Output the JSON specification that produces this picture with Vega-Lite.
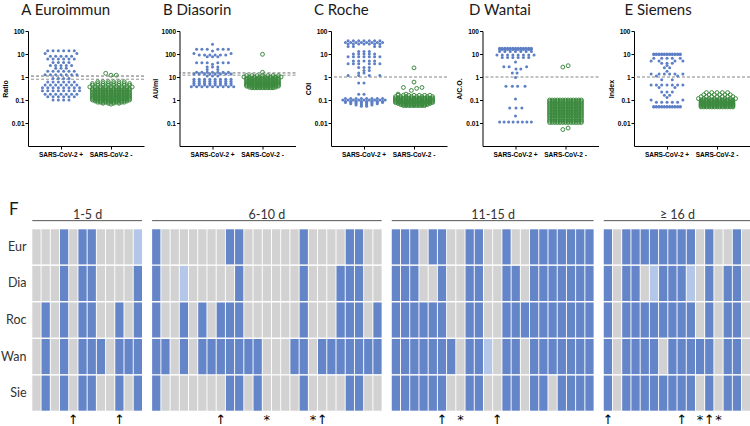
{
"$schema": "https://vega.github.io/schema/vega-lite/v6.json",
"padding": {"left": 0, "top": 3, "right": 0, "bottom": 0},
"background": "white",
"config": {"view": {"stroke": null}, "axis": {"grid": false}},
"datasets": {
"pts": [
{"p":"A","g":"+","v":14,"j":[-2.5,-1.5,-0.5,0.5,1.5,2.5]},
{"p":"A","g":"+","v":10.5,"j":[-3,3]},
{"p":"A","g":"+","v":8,"j":[-2,-1,0,1,2]},
{"p":"A","g":"+","v":6,"j":[-2.5,-1.5,-0.5,0.5,1.5,2.5]},
{"p":"A","g":"+","v":4.3,"j":[-1.5,-0.5,0.5,1.5]},
{"p":"A","g":"+","v":3.2,"j":[-2,-1,0,1,2]},
{"p":"A","g":"+","v":2.4,"j":[-1,0,1]},
{"p":"A","g":"+","v":1.8,"j":[-2.5,-1.5,-0.5,0.5,1.5,2.5]},
{"p":"A","g":"+","v":1.25,"j":[-3,-2,-1,0,1,2,3]},
{"p":"A","g":"+","v":0.85,"j":[-1.5,-0.5,0.5,1.5]},
{"p":"A","g":"+","v":0.6,"j":[-2.5,-1.5,-0.5,0.5,1.5,2.5]},
{"p":"A","g":"+","v":0.45,"j":[-3,-2,-1,0,1,2,3]},
{"p":"A","g":"+","v":0.34,"j":[-3.5,-2.5,-1.5,-0.5,0.5,1.5,2.5,3.5]},
{"p":"A","g":"+","v":0.25,"j":[-3.5,-2.5,-1.5,-0.5,0.5,1.5,2.5,3.5]},
{"p":"A","g":"+","v":0.18,"j":[-3,-2,-1,0,1,2,3]},
{"p":"A","g":"+","v":0.14,"j":[-2.5,-1.5,-0.5,0.5,1.5,2.5]},
{"p":"A","g":"+","v":0.1,"j":[-1.5,-0.5,0.5,1.5]},
{"p":"A","g":"-","v":1.45,"j":[-1]},
{"p":"A","g":"-","v":1.2,"j":[0,1]},
{"p":"A","g":"-","v":0.62,"j":[-2.5,-1.5,-0.5,0.5,1.5,2.5]},
{"p":"A","g":"-","v":0.52,"j":[-3.5,-2.5,-1.5,-0.5,0.5,1.5,2.5,3.5]},
{"p":"A","g":"-","v":0.44,"j":[-3.5,-2.5,-1.5,-0.5,0.5,1.5,2.5,3.5]},
{"p":"A","g":"-","v":0.37,"j":[-4,-3,-2,-1,0,1,2,3,4]},
{"p":"A","g":"-","v":0.31,"j":[-3.5,-3,-2.5,-2,-1.5,-1,-0.5,0,0.5,1,1.5,2,2.5,3,3.5]},
{"p":"A","g":"-","v":0.27,"j":[-3.5,-3,-2.5,-2,-1.5,-1,-0.5,0,0.5,1,1.5,2,2.5,3,3.5]},
{"p":"A","g":"-","v":0.23,"j":[-3.5,-3,-2.5,-2,-1.5,-1,-0.5,0,0.5,1,1.5,2,2.5,3,3.5]},
{"p":"A","g":"-","v":0.2,"j":[-3.5,-3,-2.5,-2,-1.5,-1,-0.5,0,0.5,1,1.5,2,2.5,3,3.5]},
{"p":"A","g":"-","v":0.17,"j":[-3.5,-3,-2.5,-2,-1.5,-1,-0.5,0,0.5,1,1.5,2,2.5,3,3.5]},
{"p":"A","g":"-","v":0.15,"j":[-3.5,-3,-2.5,-2,-1.5,-1,-0.5,0,0.5,1,1.5,2,2.5,3,3.5]},
{"p":"A","g":"-","v":0.13,"j":[-3.5,-3,-2.5,-2,-1.5,-1,-0.5,0,0.5,1,1.5,2,2.5,3,3.5]},
{"p":"A","g":"-","v":0.115,"j":[-3.5,-3,-2.5,-2,-1.5,-1,-0.5,0,0.5,1,1.5,2,2.5,3,3.5]},
{"p":"A","g":"-","v":0.1,"j":[-3.5,-3,-2.5,-2,-1.5,-1,-0.5,0,0.5,1,1.5,2,2.5,3,3.5]},
{"p":"A","g":"-","v":0.09,"j":[-3,-2.5,-2,-1.5,-1,-0.5,0,0.5,1,1.5,2,2.5,3]},
{"p":"A","g":"-","v":0.08,"j":[-2.5,-2,-1.5,-1,-0.5,0,0.5,1,1.5,2,2.5]},
{"p":"A","g":"-","v":0.072,"j":[-1.5,-0.5,0.5,1.5]},
{"p":"A","g":"-","v":0.066,"j":[0]},
{"p":"B","g":"+","v":266,"j":[0]},
{"p":"B","g":"+","v":160,"j":[-3,-2,-1,1,2,3]},
{"p":"B","g":"+","v":135,"j":[0]},
{"p":"B","g":"+","v":105,"j":[-3.5,3.5]},
{"p":"B","g":"+","v":90,"j":[-2.5,-1.5,-0.5,0.5,1.5,2.5]},
{"p":"B","g":"+","v":75,"j":[-1,0,1]},
{"p":"B","g":"+","v":42,"j":[-3,-2,-1,1,2,3]},
{"p":"B","g":"+","v":36,"j":[0]},
{"p":"B","g":"+","v":27,"j":[-1,0,1]},
{"p":"B","g":"+","v":21,"j":[-1,1]},
{"p":"B","g":"+","v":16,"j":[-3,-2,-1,0,1,2,3]},
{"p":"B","g":"+","v":13.5,"j":[-3.5,-2.5,-1.5,-0.5,0.5,1.5,2.5,3.5]},
{"p":"B","g":"+","v":11,"j":[-1,0,1]},
{"p":"B","g":"+","v":8,"j":[-3.5,-2.5,-1.5,-0.5,0.5,1.5,2.5,3.5]},
{"p":"B","g":"+","v":6.5,"j":[-3.5,-2.5,-1.5,-0.5,0.5,1.5,2.5,3.5]},
{"p":"B","g":"+","v":5.4,"j":[-3.5,-2.5,-1.5,-0.5,0.5,1.5,2.5,3.5]},
{"p":"B","g":"+","v":4.5,"j":[-3.5,-2.5,-1.5,-0.5,0.5,1.5,2.5,3.5]},
{"p":"B","g":"+","v":3.8,"j":[-4,-3,-2,-1,0,1,2,3,4]},
{"p":"B","g":"-","v":97,"j":[0]},
{"p":"B","g":"-","v":16,"j":[0]},
{"p":"B","g":"-","v":11.5,"j":[-3,-2,-1,0,1,2,3]},
{"p":"B","g":"-","v":10,"j":[-3.5,-2.5,-1.5,-0.5,0.5,1.5,2.5,3.5]},
{"p":"B","g":"-","v":9,"j":[-3,-2.5,-2,-1.5,-1,-0.5,0,0.5,1,1.5,2,2.5,3]},
{"p":"B","g":"-","v":8,"j":[-3,-2.5,-2,-1.5,-1,-0.5,0,0.5,1,1.5,2,2.5,3]},
{"p":"B","g":"-","v":7,"j":[-3,-2.5,-2,-1.5,-1,-0.5,0,0.5,1,1.5,2,2.5,3]},
{"p":"B","g":"-","v":6.2,"j":[-3,-2.5,-2,-1.5,-1,-0.5,0,0.5,1,1.5,2,2.5,3]},
{"p":"B","g":"-","v":5.5,"j":[-3,-2.5,-2,-1.5,-1,-0.5,0,0.5,1,1.5,2,2.5,3]},
{"p":"B","g":"-","v":4.9,"j":[-3,-2.5,-2,-1.5,-1,-0.5,0,0.5,1,1.5,2,2.5,3]},
{"p":"B","g":"-","v":4.4,"j":[-3,-2.5,-2,-1.5,-1,-0.5,0,0.5,1,1.5,2,2.5,3]},
{"p":"B","g":"-","v":4,"j":[-3,-2.5,-2,-1.5,-1,-0.5,0,0.5,1,1.5,2,2.5,3]},
{"p":"B","g":"-","v":3.6,"j":[-2.5,-2,-1.5,-1,-0.5,0,0.5,1,1.5,2,2.5]},
{"p":"B","g":"-","v":3.4,"j":[-2,-1.5,-1,-0.5,0,0.5,1,1.5,2]},
{"p":"C","g":"+","v":38,"j":[-3,-2,-1,0,1,2,3]},
{"p":"C","g":"+","v":32,"j":[-3.5,-2.5,-1.5,-0.5,0.5,1.5,2.5,3.5]},
{"p":"C","g":"+","v":27,"j":[-3,-2,-1,0,1,2,3]},
{"p":"C","g":"+","v":21,"j":[-3,-2,2,3]},
{"p":"C","g":"+","v":13,"j":[-1,0,1]},
{"p":"C","g":"+","v":10,"j":[-2,-1,0,1,2]},
{"p":"C","g":"+","v":7.5,"j":[-3,-2,-1,0,1,2,3]},
{"p":"C","g":"+","v":5,"j":[-2,-1,0,1,2]},
{"p":"C","g":"+","v":3.8,"j":[-3,-2,-1,1,2,3]},
{"p":"C","g":"+","v":2.6,"j":[-1,0,1]},
{"p":"C","g":"+","v":1.9,"j":[0,1]},
{"p":"C","g":"+","v":1.5,"j":[-1,0]},
{"p":"C","g":"+","v":1.15,"j":[-3,-1,1,3]},
{"p":"C","g":"+","v":0.55,"j":[-1,0]},
{"p":"C","g":"+","v":0.18,"j":[-1,0]},
{"p":"C","g":"+","v":0.115,"j":[-3.5,-2.5,-1.5,-0.5,0.5,1.5,2.5,3.5]},
{"p":"C","g":"+","v":0.1,"j":[-4,-3,-2,-1,0,1,2,3,4]},
{"p":"C","g":"+","v":0.088,"j":[-3.5,-2.5,-1.5,-0.5,0.5,1.5,2.5,3.5]},
{"p":"C","g":"+","v":0.077,"j":[-3.5,-2.5,-1.5,-0.5,0.5,1.5,2.5,3.5]},
{"p":"C","g":"+","v":0.068,"j":[-2.5,-1.5,-0.5,0.5,1.5,2.5]},
{"p":"C","g":"+","v":0.06,"j":[-1.5,-0.5,0.5,1.5]},
{"p":"C","g":"+","v":0.053,"j":[-0.5,0.5]},
{"p":"C","g":"-","v":2.5,"j":[0]},
{"p":"C","g":"-","v":0.6,"j":[0]},
{"p":"C","g":"-","v":0.35,"j":[-2,1.5]},
{"p":"C","g":"-","v":0.32,"j":[0.5]},
{"p":"C","g":"-","v":0.26,"j":[-0.5]},
{"p":"C","g":"-","v":0.18,"j":[-3,-1.5]},
{"p":"C","g":"-","v":0.16,"j":[-3,-2,-1,0,1,2,3]},
{"p":"C","g":"-","v":0.14,"j":[-3.5,-2.5,-1.5,-0.5,0.5,1.5,2.5,3.5]},
{"p":"C","g":"-","v":0.12,"j":[-3.5,-3,-2.5,-2,-1.5,-1,-0.5,0,0.5,1,1.5,2,2.5,3,3.5]},
{"p":"C","g":"-","v":0.105,"j":[-3.5,-3,-2.5,-2,-1.5,-1,-0.5,0,0.5,1,1.5,2,2.5,3,3.5]},
{"p":"C","g":"-","v":0.095,"j":[-3.5,-3,-2.5,-2,-1.5,-1,-0.5,0,0.5,1,1.5,2,2.5,3,3.5]},
{"p":"C","g":"-","v":0.085,"j":[-3.5,-3,-2.5,-2,-1.5,-1,-0.5,0,0.5,1,1.5,2,2.5,3,3.5]},
{"p":"C","g":"-","v":0.078,"j":[-3.5,-3,-2.5,-2,-1.5,-1,-0.5,0,0.5,1,1.5,2,2.5,3,3.5]},
{"p":"C","g":"-","v":0.07,"j":[-3,-2.5,-2,-1.5,-1,-0.5,0,0.5,1,1.5,2,2.5,3]},
{"p":"C","g":"-","v":0.063,"j":[-2.5,-2,-1.5,-1,-0.5,0,0.5,1,1.5,2,2.5]},
{"p":"C","g":"-","v":0.057,"j":[-2,-1.5,-1,-0.5,0,0.5,1,1.5,2]},
{"p":"D","g":"+","v":18,"j":[-3,-2.5,-2,-1.5,-1,-0.5,0,0.5,1,1.5,2,2.5,3]},
{"p":"D","g":"+","v":15.5,"j":[-3,-2.5,-2,-1.5,-1,-0.5,0,0.5,1,1.5,2,2.5,3]},
{"p":"D","g":"+","v":13,"j":[-3,-2,-1,0,1,2,3]},
{"p":"D","g":"+","v":9,"j":[-3.5,-2.5,-1.5,-0.5,0.5,1.5,2.5,3.5]},
{"p":"D","g":"+","v":7,"j":[-2.5,-1.5,-0.5,0.5,1.5,2.5]},
{"p":"D","g":"+","v":4.5,"j":[0]},
{"p":"D","g":"+","v":2.8,"j":[-2.2,-1.2,2.1]},
{"p":"D","g":"+","v":2.2,"j":[0.1,1]},
{"p":"D","g":"+","v":1.5,"j":[-0.6,0.3]},
{"p":"D","g":"+","v":0.95,"j":[0]},
{"p":"D","g":"+","v":0.4,"j":[-1.8,-0.6,0.4,1.8]},
{"p":"D","g":"+","v":0.11,"j":[0]},
{"p":"D","g":"+","v":0.045,"j":[-1.1,0.1,1.2]},
{"p":"D","g":"+","v":0.02,"j":[0]},
{"p":"D","g":"+","v":0.011,"j":[-3,-2.15,-1.3,-0.45,0.45,1.3,2.15,3]},
{"p":"D","g":"-","v":3.1,"j":[0.5]},
{"p":"D","g":"-","v":2.7,"j":[-0.5]},
{"p":"D","g":"-","v":0.1,"j":[-3,-2.5,-2,-1.5,-1,-0.5,0,0.5,1,1.5,2,2.5,3]},
{"p":"D","g":"-","v":0.088,"j":[-3,-2.5,-2,-1.5,-1,-0.5,0,0.5,1,1.5,2,2.5,3]},
{"p":"D","g":"-","v":0.076,"j":[-3,-2.5,-2,-1.5,-1,-0.5,0,0.5,1,1.5,2,2.5,3]},
{"p":"D","g":"-","v":0.066,"j":[-3,-2.5,-2,-1.5,-1,-0.5,0,0.5,1,1.5,2,2.5,3]},
{"p":"D","g":"-","v":0.057,"j":[-3,-2.5,-2,-1.5,-1,-0.5,0,0.5,1,1.5,2,2.5,3]},
{"p":"D","g":"-","v":0.049,"j":[-3,-2.5,-2,-1.5,-1,-0.5,0,0.5,1,1.5,2,2.5,3]},
{"p":"D","g":"-","v":0.042,"j":[-3,-2.5,-2,-1.5,-1,-0.5,0,0.5,1,1.5,2,2.5,3]},
{"p":"D","g":"-","v":0.036,"j":[-3,-2.5,-2,-1.5,-1,-0.5,0,0.5,1,1.5,2,2.5,3]},
{"p":"D","g":"-","v":0.031,"j":[-3,-2.5,-2,-1.5,-1,-0.5,0,0.5,1,1.5,2,2.5,3]},
{"p":"D","g":"-","v":0.027,"j":[-3,-2.5,-2,-1.5,-1,-0.5,0,0.5,1,1.5,2,2.5,3]},
{"p":"D","g":"-","v":0.023,"j":[-3,-2.5,-2,-1.5,-1,-0.5,0,0.5,1,1.5,2,2.5,3]},
{"p":"D","g":"-","v":0.02,"j":[-3,-2.5,-2,-1.5,-1,-0.5,0,0.5,1,1.5,2,2.5,3]},
{"p":"D","g":"-","v":0.017,"j":[-3,-2.5,-2,-1.5,-1,-0.5,0,0.5,1,1.5,2,2.5,3]},
{"p":"D","g":"-","v":0.014,"j":[-3,-2.5,-2,-1.5,-1,-0.5,0,0.5,1,1.5,2,2.5,3]},
{"p":"D","g":"-","v":0.012,"j":[-3,-2.5,-2,-1.5,-1,-0.5,0,0.5,1,1.5,2,2.5,3]},
{"p":"D","g":"-","v":0.0105,"j":[-3,-2.5,-2,-1.5,-1,-0.5,0,0.5,1,1.5,2,2.5,3]},
{"p":"D","g":"-","v":0.006,"j":[0.5]},
{"p":"D","g":"-","v":0.0052,"j":[-0.5]},
{"p":"E","g":"+","v":10,"j":[-2.5,-2,-1.5,-1,-0.5,0,0.5,1,1.5,2,2.5]},
{"p":"E","g":"+","v":9.6,"j":[-2.5,-2,-1.5,-1,-0.5,0,0.5,1,1.5,2,2.5]},
{"p":"E","g":"+","v":6.5,"j":[-2.5,-1,0,1,2.5]},
{"p":"E","g":"+","v":5,"j":[-3,-1.5,1.5,3]},
{"p":"E","g":"+","v":4,"j":[-1,0,1]},
{"p":"E","g":"+","v":3.2,"j":[0]},
{"p":"E","g":"+","v":2.5,"j":[-0.5,0.5]},
{"p":"E","g":"+","v":1.8,"j":[0]},
{"p":"E","g":"+","v":1.35,"j":[-3,-1.5,-0.5,0.5,1.5,3]},
{"p":"E","g":"+","v":1.1,"j":[-2,2]},
{"p":"E","g":"+","v":0.75,"j":[-1,1]},
{"p":"E","g":"+","v":0.45,"j":[-3,-2,-1,0,1,2,3]},
{"p":"E","g":"+","v":0.35,"j":[-1.5,1.5]},
{"p":"E","g":"+","v":0.22,"j":[-1,0,1]},
{"p":"E","g":"+","v":0.16,"j":[-0.5,0.5]},
{"p":"E","g":"+","v":0.13,"j":[0]},
{"p":"E","g":"+","v":0.1,"j":[-3,3]},
{"p":"E","g":"+","v":0.08,"j":[-2,-1,0,1,2]},
{"p":"E","g":"+","v":0.052,"j":[-2.5,-2,-1.5,-1,-0.5,0,0.5,1,1.5,2,2.5]},
{"p":"E","g":"+","v":0.05,"j":[-2.5,-2,-1.5,-1,-0.5,0,0.5,1,1.5,2,2.5]},
{"p":"E","g":"-","v":0.21,"j":[-2,-1,0,1,2]},
{"p":"E","g":"-","v":0.17,"j":[-2.5,-1.5,-0.5,0.5,1.5,2.5]},
{"p":"E","g":"-","v":0.14,"j":[-3,-2,-1,0,1,2,3]},
{"p":"E","g":"-","v":0.115,"j":[-3.5,-2.5,-1.5,-0.5,0.5,1.5,2.5,3.5]},
{"p":"E","g":"-","v":0.1,"j":[-3,-2.5,-2,-1.5,-1,-0.5,0,0.5,1,1.5,2,2.5,3]},
{"p":"E","g":"-","v":0.09,"j":[-3,-2.5,-2,-1.5,-1,-0.5,0,0.5,1,1.5,2,2.5,3]},
{"p":"E","g":"-","v":0.08,"j":[-3,-2.5,-2,-1.5,-1,-0.5,0,0.5,1,1.5,2,2.5,3]},
{"p":"E","g":"-","v":0.072,"j":[-3,-2.5,-2,-1.5,-1,-0.5,0,0.5,1,1.5,2,2.5,3]},
{"p":"E","g":"-","v":0.065,"j":[-3,-2.5,-2,-1.5,-1,-0.5,0,0.5,1,1.5,2,2.5,3]},
{"p":"E","g":"-","v":0.06,"j":[-3,-2.5,-2,-1.5,-1,-0.5,0,0.5,1,1.5,2,2.5,3]},
{"p":"E","g":"-","v":0.055,"j":[-3,-2.5,-2,-1.5,-1,-0.5,0,0.5,1,1.5,2,2.5,3]},
{"p":"E","g":"-","v":0.05,"j":[-3,-2.5,-2,-1.5,-1,-0.5,0,0.5,1,1.5,2,2.5,3]}
],
"cells": [
{"c":1,"Eur":"n","Dia":"n","Roc":"n","Wan":"n","Sie":"n"},
{"c":2,"Eur":"n","Dia":"n","Roc":"p","Wan":"p","Sie":"p"},
{"c":3,"Eur":"n","Dia":"n","Roc":"n","Wan":"n","Sie":"n"},
{"c":4,"Eur":"p","Dia":"p","Roc":"p","Wan":"p","Sie":"p"},
{"c":5,"Eur":"n","Dia":"n","Roc":"n","Wan":"n","Sie":"n"},
{"c":6,"Eur":"p","Dia":"p","Roc":"p","Wan":"p","Sie":"p"},
{"c":7,"Eur":"p","Dia":"p","Roc":"p","Wan":"p","Sie":"p"},
{"c":8,"Eur":"n","Dia":"n","Roc":"n","Wan":"p","Sie":"n"},
{"c":9,"Eur":"n","Dia":"n","Roc":"n","Wan":"n","Sie":"n"},
{"c":10,"Eur":"n","Dia":"n","Roc":"p","Wan":"p","Sie":"p"},
{"c":11,"Eur":"n","Dia":"n","Roc":"n","Wan":"p","Sie":"n"},
{"c":12,"Eur":"b","Dia":"p","Roc":"p","Wan":"p","Sie":"p"},
{"c":14,"Eur":"p","Dia":"p","Roc":"p","Wan":"p","Sie":"p"},
{"c":15,"Eur":"n","Dia":"n","Roc":"n","Wan":"p","Sie":"n"},
{"c":16,"Eur":"n","Dia":"n","Roc":"n","Wan":"n","Sie":"n"},
{"c":17,"Eur":"n","Dia":"b","Roc":"p","Wan":"p","Sie":"n"},
{"c":18,"Eur":"n","Dia":"n","Roc":"n","Wan":"n","Sie":"n"},
{"c":19,"Eur":"n","Dia":"n","Roc":"p","Wan":"p","Sie":"n"},
{"c":20,"Eur":"n","Dia":"n","Roc":"n","Wan":"p","Sie":"n"},
{"c":21,"Eur":"n","Dia":"n","Roc":"p","Wan":"p","Sie":"n"},
{"c":22,"Eur":"p","Dia":"n","Roc":"p","Wan":"p","Sie":"p"},
{"c":23,"Eur":"p","Dia":"p","Roc":"p","Wan":"p","Sie":"p"},
{"c":24,"Eur":"n","Dia":"n","Roc":"n","Wan":"p","Sie":"n"},
{"c":25,"Eur":"n","Dia":"n","Roc":"n","Wan":"p","Sie":"p"},
{"c":26,"Eur":"n","Dia":"n","Roc":"n","Wan":"n","Sie":"n"},
{"c":27,"Eur":"n","Dia":"n","Roc":"n","Wan":"n","Sie":"n"},
{"c":28,"Eur":"n","Dia":"n","Roc":"n","Wan":"n","Sie":"n"},
{"c":29,"Eur":"n","Dia":"n","Roc":"n","Wan":"p","Sie":"n"},
{"c":30,"Eur":"p","Dia":"p","Roc":"p","Wan":"p","Sie":"p"},
{"c":31,"Eur":"n","Dia":"n","Roc":"n","Wan":"n","Sie":"n"},
{"c":32,"Eur":"n","Dia":"n","Roc":"n","Wan":"p","Sie":"n"},
{"c":33,"Eur":"n","Dia":"n","Roc":"n","Wan":"p","Sie":"n"},
{"c":34,"Eur":"n","Dia":"p","Roc":"p","Wan":"p","Sie":"n"},
{"c":35,"Eur":"p","Dia":"p","Roc":"p","Wan":"p","Sie":"p"},
{"c":36,"Eur":"p","Dia":"p","Roc":"p","Wan":"p","Sie":"p"},
{"c":37,"Eur":"n","Dia":"n","Roc":"n","Wan":"p","Sie":"n"},
{"c":38,"Eur":"n","Dia":"n","Roc":"p","Wan":"p","Sie":"n"},
{"c":40,"Eur":"p","Dia":"p","Roc":"p","Wan":"p","Sie":"p"},
{"c":41,"Eur":"p","Dia":"p","Roc":"p","Wan":"p","Sie":"p"},
{"c":42,"Eur":"p","Dia":"p","Roc":"p","Wan":"p","Sie":"p"},
{"c":43,"Eur":"n","Dia":"n","Roc":"p","Wan":"p","Sie":"p"},
{"c":44,"Eur":"p","Dia":"n","Roc":"p","Wan":"p","Sie":"p"},
{"c":45,"Eur":"p","Dia":"p","Roc":"p","Wan":"p","Sie":"p"},
{"c":46,"Eur":"n","Dia":"n","Roc":"n","Wan":"p","Sie":"n"},
{"c":47,"Eur":"n","Dia":"n","Roc":"n","Wan":"n","Sie":"n"},
{"c":48,"Eur":"p","Dia":"p","Roc":"p","Wan":"p","Sie":"p"},
{"c":49,"Eur":"p","Dia":"p","Roc":"p","Wan":"p","Sie":"p"},
{"c":50,"Eur":"n","Dia":"n","Roc":"n","Wan":"b","Sie":"n"},
{"c":51,"Eur":"n","Dia":"n","Roc":"n","Wan":"n","Sie":"n"},
{"c":52,"Eur":"p","Dia":"p","Roc":"p","Wan":"p","Sie":"p"},
{"c":53,"Eur":"n","Dia":"p","Roc":"p","Wan":"p","Sie":"p"},
{"c":54,"Eur":"n","Dia":"n","Roc":"p","Wan":"n","Sie":"n"},
{"c":55,"Eur":"p","Dia":"p","Roc":"p","Wan":"p","Sie":"p"},
{"c":56,"Eur":"p","Dia":"p","Roc":"p","Wan":"p","Sie":"p"},
{"c":57,"Eur":"p","Dia":"p","Roc":"p","Wan":"p","Sie":"n"},
{"c":58,"Eur":"p","Dia":"p","Roc":"p","Wan":"p","Sie":"p"},
{"c":59,"Eur":"p","Dia":"p","Roc":"p","Wan":"p","Sie":"p"},
{"c":60,"Eur":"p","Dia":"p","Roc":"p","Wan":"p","Sie":"p"},
{"c":61,"Eur":"p","Dia":"p","Roc":"p","Wan":"p","Sie":"p"},
{"c":63,"Eur":"p","Dia":"p","Roc":"p","Wan":"p","Sie":"p"},
{"c":64,"Eur":"n","Dia":"n","Roc":"n","Wan":"n","Sie":"n"},
{"c":65,"Eur":"p","Dia":"p","Roc":"p","Wan":"p","Sie":"p"},
{"c":66,"Eur":"p","Dia":"p","Roc":"p","Wan":"p","Sie":"p"},
{"c":67,"Eur":"p","Dia":"n","Roc":"p","Wan":"p","Sie":"p"},
{"c":68,"Eur":"p","Dia":"b","Roc":"p","Wan":"p","Sie":"p"},
{"c":69,"Eur":"p","Dia":"p","Roc":"p","Wan":"n","Sie":"p"},
{"c":70,"Eur":"p","Dia":"p","Roc":"p","Wan":"p","Sie":"p"},
{"c":71,"Eur":"p","Dia":"p","Roc":"p","Wan":"p","Sie":"p"},
{"c":72,"Eur":"p","Dia":"b","Roc":"p","Wan":"p","Sie":"p"},
{"c":73,"Eur":"n","Dia":"n","Roc":"n","Wan":"p","Sie":"n"},
{"c":74,"Eur":"p","Dia":"p","Roc":"p","Wan":"p","Sie":"p"},
{"c":75,"Eur":"n","Dia":"n","Roc":"n","Wan":"n","Sie":"n"},
{"c":76,"Eur":"n","Dia":"p","Roc":"p","Wan":"p","Sie":"p"},
{"c":77,"Eur":"p","Dia":"p","Roc":"p","Wan":"p","Sie":"p"},
{"c":78,"Eur":"n","Dia":"n","Roc":"n","Wan":"n","Sie":"n"}
],
"groups": [
{"g":"1-5 d","c1":1,"c2":12,"cm":7,"odd":0},
{"g":"6-10 d","c1":14,"c2":38,"cm":26,"odd":1},
{"g":"11-15 d","c1":40,"c2":61,"cm":51,"odd":0},
{"g":"≥ 16 d","c1":63,"c2":78,"cm":71,"odd":0}
],
"marks": [
{"c":5,"m":"↑"},{"c":10,"m":"↑"},{"c":21,"m":"↑"},{"c":26,"m":"*"},{"c":31,"m":"*"},{"c":32,"m":"↑"},
{"c":45,"m":"↑"},{"c":47,"m":"*"},{"c":51,"m":"↑"},
{"c":63,"m":"↑"},{"c":71,"m":"↑"},{"c":73,"m":"*"},{"c":74,"m":"↑"},{"c":75,"m":"*"}
]
},
"vconcat": [
{
"hconcat": [
{
"width": 116, "height": 115,
"title": {"text": "A  Euroimmun", "anchor": "start", "frame": "group", "dx": -6.7, "offset": 10, "fontSize": 15, "font": "Lato", "fontWeight": "normal", "color": "#1a1a1a"},
"layer": [
{"data": {"values": [{}]}, "mark": {"type": "rule", "strokeDash": [3, 2], "color": "#444", "strokeWidth": 0.8}, "encoding": {"y": {"datum": 1.1, "type": "quantitative"}}},
{"data": {"values": [{}]}, "mark": {"type": "rule", "strokeDash": [3, 2], "color": "#777", "strokeWidth": 0.8}, "encoding": {"y": {"datum": 0.8, "type": "quantitative"}}},
{"data": {"name": "pts"}, "transform": [{"filter": "datum.p == 'A' && datum.g == '+'"}, {"flatten": ["j"]}],
 "mark": {"type": "circle", "size": 9, "color": "#5d7fc5", "opacity": 1},
 "encoding": {
  "x": {"field": "g", "type": "nominal", "scale": {"domain": ["+", "-"], "paddingInner": 0, "paddingOuter": 0.16}, "axis": {"title": null, "labelAngle": 0, "labelExpr": "datum.value == '+' ? 'SARS-CoV-2 +' : 'SARS-CoV-2 -'", "labelFont": "Liberation Sans", "labelFontWeight": "bold", "labelFontSize": 6.5, "labelColor": "#000", "tickColor": "#000", "domainColor": "#000", "tickSize": 3, "labelPadding": 2}},
  "y": {"field": "v", "type": "quantitative", "scale": {"type": "log", "domain": [0.0033, 100]}, "axis": {"title": "Ratio", "values": [0.01, 0.1, 1, 10, 100], "format": "~g", "labelFont": "Liberation Sans", "labelFontWeight": "bold", "labelFontSize": 6.5, "labelColor": "#000", "tickColor": "#000", "domainColor": "#000", "tickSize": 3, "labelPadding": 1, "titleFont": "Liberation Sans", "titleFontSize": 7, "titleFontWeight": "bold", "titleColor": "#000", "titlePadding": 3}},
  "xOffset": {"field": "j", "type": "quantitative", "scale": {"domain": [-10, 10], "range": [-28, 78]}}
 }},
{"data": {"name": "pts"}, "transform": [{"filter": "datum.p == 'A' && datum.g == '-'"}, {"flatten": ["j"]}],
 "mark": {"type": "point", "size": 15, "color": "#3b8a3e", "strokeWidth": 1, "opacity": 1, "filled": false},
 "encoding": {
  "x": {"field": "g", "type": "nominal"},
  "y": {"field": "v", "type": "quantitative", "title": "Ratio"},
  "xOffset": {"field": "j", "type": "quantitative"}
 }}
]
},
{
"width": 116, "height": 115,
"title": {"text": "B  Diasorin", "anchor": "start", "frame": "group", "dx": -16.5, "offset": 10, "fontSize": 15, "font": "Lato", "fontWeight": "normal", "color": "#1a1a1a"},
"layer": [
{"data": {"values": [{}]}, "mark": {"type": "rule", "strokeDash": [3, 2], "color": "#444", "strokeWidth": 0.8}, "encoding": {"y": {"datum": 15, "type": "quantitative"}}},
{"data": {"values": [{}]}, "mark": {"type": "rule", "strokeDash": [3, 2], "color": "#777", "strokeWidth": 0.8}, "encoding": {"y": {"datum": 12, "type": "quantitative"}}},
{"data": {"name": "pts"}, "transform": [{"filter": "datum.p == 'B' && datum.g == '+'"}, {"flatten": ["j"]}],
 "mark": {"type": "circle", "size": 9, "color": "#5d7fc5", "opacity": 1},
 "encoding": {
  "x": {"field": "g", "type": "nominal", "scale": {"domain": ["+", "-"], "paddingInner": 0, "paddingOuter": 0.16}, "axis": {"title": null, "labelAngle": 0, "labelExpr": "datum.value == '+' ? 'SARS-CoV-2 +' : 'SARS-CoV-2 -'", "labelFont": "Liberation Sans", "labelFontWeight": "bold", "labelFontSize": 6.5, "labelColor": "#000", "tickColor": "#000", "domainColor": "#000", "tickSize": 3, "labelPadding": 2}},
  "y": {"field": "v", "type": "quantitative", "scale": {"type": "log", "domain": [0.05, 1000]}, "axis": {"title": "AU/ml", "values": [0.1, 1, 10, 100, 1000], "format": "~g", "labelFont": "Liberation Sans", "labelFontWeight": "bold", "labelFontSize": 6.5, "labelColor": "#000", "tickColor": "#000", "domainColor": "#000", "tickSize": 3, "labelPadding": 1, "titleFont": "Liberation Sans", "titleFontSize": 7, "titleFontWeight": "bold", "titleColor": "#000", "titlePadding": 3}},
  "xOffset": {"field": "j", "type": "quantitative", "scale": {"domain": [-10, 10], "range": [-28, 78]}}
 }},
{"data": {"name": "pts"}, "transform": [{"filter": "datum.p == 'B' && datum.g == '-'"}, {"flatten": ["j"]}],
 "mark": {"type": "point", "size": 15, "color": "#3b8a3e", "strokeWidth": 1, "opacity": 1, "filled": false},
 "encoding": {
  "x": {"field": "g", "type": "nominal"},
  "y": {"field": "v", "type": "quantitative", "title": "AU/ml"},
  "xOffset": {"field": "j", "type": "quantitative"}
 }}
]
},
{
"width": 116, "height": 115,
"title": {"text": "C  Roche", "anchor": "start", "frame": "group", "dx": -17, "offset": 10, "fontSize": 15, "font": "Lato", "fontWeight": "normal", "color": "#1a1a1a"},
"layer": [
{"data": {"values": [{}]}, "mark": {"type": "rule", "strokeDash": [3, 2], "color": "#666", "strokeWidth": 0.8}, "encoding": {"y": {"datum": 1, "type": "quantitative"}}},
{"data": {"name": "pts"}, "transform": [{"filter": "datum.p == 'C' && datum.g == '+'"}, {"flatten": ["j"]}],
 "mark": {"type": "circle", "size": 9, "color": "#5d7fc5", "opacity": 1},
 "encoding": {
  "x": {"field": "g", "type": "nominal", "scale": {"domain": ["+", "-"], "paddingInner": 0, "paddingOuter": 0.16}, "axis": {"title": null, "labelAngle": 0, "labelExpr": "datum.value == '+' ? 'SARS-CoV-2 +' : 'SARS-CoV-2 -'", "labelFont": "Liberation Sans", "labelFontWeight": "bold", "labelFontSize": 6.5, "labelColor": "#000", "tickColor": "#000", "domainColor": "#000", "tickSize": 3, "labelPadding": 2}},
  "y": {"field": "v", "type": "quantitative", "scale": {"type": "log", "domain": [0.003, 100]}, "axis": {"title": "COI", "values": [0.01, 0.1, 1, 10, 100], "format": "~g", "labelFont": "Liberation Sans", "labelFontWeight": "bold", "labelFontSize": 6.5, "labelColor": "#000", "tickColor": "#000", "domainColor": "#000", "tickSize": 3, "labelPadding": 1, "titleFont": "Liberation Sans", "titleFontSize": 7, "titleFontWeight": "bold", "titleColor": "#000", "titlePadding": 3}},
  "xOffset": {"field": "j", "type": "quantitative", "scale": {"domain": [-10, 10], "range": [-28, 78]}}
 }},
{"data": {"name": "pts"}, "transform": [{"filter": "datum.p == 'C' && datum.g == '-'"}, {"flatten": ["j"]}],
 "mark": {"type": "point", "size": 15, "color": "#3b8a3e", "strokeWidth": 1, "opacity": 1, "filled": false},
 "encoding": {
  "x": {"field": "g", "type": "nominal"},
  "y": {"field": "v", "type": "quantitative", "title": "COI"},
  "xOffset": {"field": "j", "type": "quantitative"}
 }}
]
},
{
"width": 116, "height": 115,
"title": {"text": "D  Wantai", "anchor": "start", "frame": "group", "dx": -13.5, "offset": 10, "fontSize": 15, "font": "Lato", "fontWeight": "normal", "color": "#1a1a1a"},
"layer": [
{"data": {"values": [{}]}, "mark": {"type": "rule", "strokeDash": [3, 2], "color": "#666", "strokeWidth": 0.8}, "encoding": {"y": {"datum": 1, "type": "quantitative"}}},
{"data": {"name": "pts"}, "transform": [{"filter": "datum.p == 'D' && datum.g == '+'"}, {"flatten": ["j"]}],
 "mark": {"type": "circle", "size": 9, "color": "#5d7fc5", "opacity": 1},
 "encoding": {
  "x": {"field": "g", "type": "nominal", "scale": {"domain": ["+", "-"], "paddingInner": 0, "paddingOuter": 0.16}, "axis": {"title": null, "labelAngle": 0, "labelExpr": "datum.value == '+' ? 'SARS-CoV-2 +' : 'SARS-CoV-2 -'", "labelFont": "Liberation Sans", "labelFontWeight": "bold", "labelFontSize": 6.5, "labelColor": "#000", "tickColor": "#000", "domainColor": "#000", "tickSize": 3, "labelPadding": 2}},
  "y": {"field": "v", "type": "quantitative", "scale": {"type": "log", "domain": [0.003, 100]}, "axis": {"title": "A/C.O.", "values": [0.01, 0.1, 1, 10, 100], "format": "~g", "labelFont": "Liberation Sans", "labelFontWeight": "bold", "labelFontSize": 6.5, "labelColor": "#000", "tickColor": "#000", "domainColor": "#000", "tickSize": 3, "labelPadding": 1, "titleFont": "Liberation Sans", "titleFontSize": 7, "titleFontWeight": "bold", "titleColor": "#000", "titlePadding": 3}},
  "xOffset": {"field": "j", "type": "quantitative", "scale": {"domain": [-10, 10], "range": [-28, 78]}}
 }},
{"data": {"name": "pts"}, "transform": [{"filter": "datum.p == 'D' && datum.g == '-'"}, {"flatten": ["j"]}],
 "mark": {"type": "point", "size": 15, "color": "#3b8a3e", "strokeWidth": 1, "opacity": 1, "filled": false},
 "encoding": {
  "x": {"field": "g", "type": "nominal"},
  "y": {"field": "v", "type": "quantitative", "title": "A/C.O."},
  "xOffset": {"field": "j", "type": "quantitative"}
 }}
]
},
{
"width": 116, "height": 115,
"title": {"text": "E  Siemens", "anchor": "start", "frame": "group", "dx": -9.5, "offset": 10, "fontSize": 15, "font": "Lato", "fontWeight": "normal", "color": "#1a1a1a"},
"layer": [
{"data": {"values": [{}]}, "mark": {"type": "rule", "strokeDash": [3, 2], "color": "#666", "strokeWidth": 0.8}, "encoding": {"y": {"datum": 1, "type": "quantitative"}}},
{"data": {"name": "pts"}, "transform": [{"filter": "datum.p == 'E' && datum.g == '+'"}, {"flatten": ["j"]}],
 "mark": {"type": "circle", "size": 9, "color": "#5d7fc5", "opacity": 1},
 "encoding": {
  "x": {"field": "g", "type": "nominal", "scale": {"domain": ["+", "-"], "paddingInner": 0, "paddingOuter": 0.16}, "axis": {"title": null, "labelAngle": 0, "labelExpr": "datum.value == '+' ? 'SARS-CoV-2 +' : 'SARS-CoV-2 -'", "labelFont": "Liberation Sans", "labelFontWeight": "bold", "labelFontSize": 6.5, "labelColor": "#000", "tickColor": "#000", "domainColor": "#000", "tickSize": 3, "labelPadding": 2}},
  "y": {"field": "v", "type": "quantitative", "scale": {"type": "log", "domain": [0.003, 100]}, "axis": {"title": "Index", "values": [0.01, 0.1, 1, 10, 100], "format": "~g", "labelFont": "Liberation Sans", "labelFontWeight": "bold", "labelFontSize": 6.5, "labelColor": "#000", "tickColor": "#000", "domainColor": "#000", "tickSize": 3, "labelPadding": 1, "titleFont": "Liberation Sans", "titleFontSize": 7, "titleFontWeight": "bold", "titleColor": "#000", "titlePadding": 3}},
  "xOffset": {"field": "j", "type": "quantitative", "scale": {"domain": [-10, 10], "range": [-28, 78]}}
 }},
{"data": {"name": "pts"}, "transform": [{"filter": "datum.p == 'E' && datum.g == '-'"}, {"flatten": ["j"]}],
 "mark": {"type": "point", "size": 15, "color": "#3b8a3e", "strokeWidth": 1, "opacity": 1, "filled": false},
 "encoding": {
  "x": {"field": "g", "type": "nominal"},
  "y": {"field": "v", "type": "quantitative", "title": "Index"},
  "xOffset": {"field": "j", "type": "quantitative"}
 }}
]
}
],
"spacing": 35.5,
"bounds": "flush",
"resolve": {"scale": {"x": "independent", "y": "independent", "xOffset": "independent"}}
},
{
"width": 722.3, "height": 181.4,
"title": {"text": "F", "anchor": "start", "frame": "group", "dx": -19, "offset": -10, "fontSize": 17, "font": "Lato", "fontWeight": "normal", "color": "#1a1a1a"},
"layer": [
{"data": {"name": "cells"}, "transform": [{"fold": ["Eur", "Dia", "Roc", "Wan", "Sie"], "as": ["r", "s"]}],
 "mark": {"type": "rect"},
 "encoding": {
  "x": {"field": "c", "type": "ordinal", "scale": {"domain": [1,2,3,4,5,6,7,8,9,10,11,12,13,14,15,16,17,18,19,20,21,22,23,24,25,26,27,28,29,30,31,32,33,34,35,36,37,38,39,40,41,42,43,44,45,46,47,48,49,50,51,52,53,54,55,56,57,58,59,60,61,62,63,64,65,66,67,68,69,70,71,72,73,74,75,76,77,78], "range": [4.3, 722.3], "paddingInner": 0.1, "paddingOuter": 0}, "axis": null},
  "y": {"field": "r", "type": "nominal", "scale": {"domain": ["Eur", "Dia", "Roc", "Wan", "Sie"], "paddingInner": 0.04, "paddingOuter": 0}, "axis": {"title": null, "ticks": false, "domain": false, "labelFont": "Lato", "labelFontSize": 12.5, "labelColor": "#333", "labelPadding": 2}},
  "color": {"field": "s", "type": "nominal", "scale": {"domain": ["p", "b", "n"], "range": ["#6585c9", "#b4c7e8", "#d2d2d2"]}, "legend": null}
 }},
{"data": {"name": "groups"}, "mark": {"type": "rule", "color": "#555", "strokeWidth": 1, "yOffset": -26.2},
 "encoding": {"x": {"field": "c1", "type": "ordinal", "bandPosition": 0, "axis": null}, "x2": {"field": "c2", "bandPosition": 1}, "y": {"datum": "Eur", "type": "nominal"}}},
{"data": {"name": "groups"}, "transform": [{"filter": "datum.odd == 0"}], "mark": {"type": "text", "font": "Lato", "fontSize": 12.5, "color": "#333", "baseline": "alphabetic", "dy": -27.5},
 "encoding": {"x": {"field": "cm", "type": "ordinal", "bandPosition": 0, "axis": null}, "y": {"datum": "Eur", "type": "nominal"}, "text": {"field": "g"}}},
{"data": {"name": "groups"}, "transform": [{"filter": "datum.odd == 1"}], "mark": {"type": "text", "font": "Lato", "fontSize": 12.5, "color": "#333", "baseline": "alphabetic", "dy": -27.5},
 "encoding": {"x": {"field": "cm", "type": "ordinal", "bandPosition": 0.5, "axis": null}, "y": {"datum": "Eur", "type": "nominal"}, "text": {"field": "g"}}},
{"data": {"name": "marks"}, "mark": {"type": "text", "font": "DejaVu Sans", "fontSize": 13, "color": "#000", "baseline": "middle", "dy": 26.6},
 "encoding": {"x": {"field": "c", "type": "ordinal", "axis": null}, "y": {"datum": "Sie", "type": "nominal"}, "text": {"field": "m"}}}
]
}
],
"spacing": 198.3,
"bounds": "flush",
"resolve": {"scale": {"x": "independent", "y": "independent", "xOffset": "independent", "color": "independent"}}
}
